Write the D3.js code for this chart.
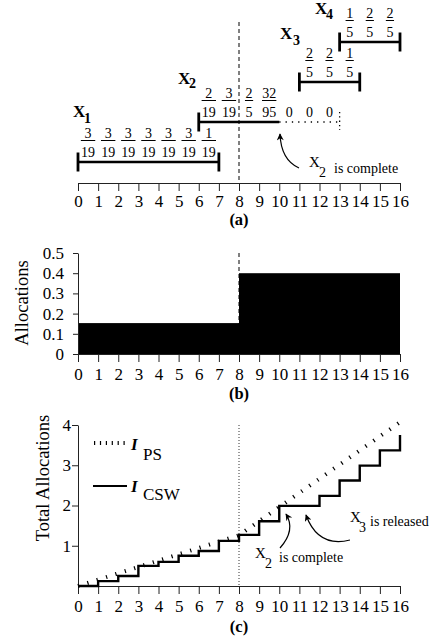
<!DOCTYPE html>
<html><head><meta charset="utf-8">
<script src="https://cdn.jsdelivr.net/npm/d3@7"></script>
<style>
body{margin:0;background:#fff}
svg{display:block}
</style>
</head><body>
<svg id="chart" width="445" height="640"></svg>
<script>
// ---------- data ----------
const timeTicks = [0,1,2,3,4,5,6,7,8,9,10,11,12,13,14,15,16];
const jobSubs = ["1","2","3","4"];
const jobStart = [0,6,11,13];
const jobEnd = [7,10,14,16];
const jobDotEnd = [null,13,null,null];
const x1Fracs = ["3/19","3/19","3/19","3/19","3/19","3/19","1/19"];
const x2Fracs = ["2/19","3/19","2/5","32/95","0","0","0"];
const x3Fracs = ["2/5","2/5","1/5"];
const x4Fracs = ["1/5","2/5","2/5"];
const jobFracs = [x1Fracs,x2Fracs,x3Fracs,x4Fracs];
const markTime = 8;

const allocStart = [0,8];
const allocEnd = [8,16];
const allocValue = [0.153,0.4];
const allocTicks = [0,0.1,0.2,0.3,0.4,0.5];
const allocTickLabels = ["0","0.1","0.2","0.3","0.4","0.5"];

const totalTicks = [1,2,3,4];
const totalTickLabels = ["1","2","3","4"];
const psTimes = [0,8,16];
const psValues = [0,1.26,4.07];
const cswTimes = [0,1,2,3,4,5,6,7,8,9,10,11,12,13,14,15,16];
const cswValues = [0,0.12,0.25,0.5,0.6,0.75,0.87,1.12,1.27,1.61,1.99,1.99,2.24,2.62,2.99,3.37,3.75];

// ---------- font pick ----------
function pickFont(){
  const cands = ["Liberation Serif","Times New Roman","Tinos","Nimbus Roman","Times","DejaVu Serif"];
  const ctx = document.createElement("canvas").getContext("2d");
  const s = "0123456789 Allocations WXm";
  ctx.font = "50px monospace"; const base = ctx.measureText(s).width;
  for(const c of cands){
    ctx.font = `50px "${c}", monospace`;
    if(Math.abs(ctx.measureText(s).width-base)>1) return `"${c}", serif`;
  }
  return "serif";
}
const FONT = pickFont();

// ---------- layout ----------
const svg = d3.select("#chart").attr("font-family",FONT);
const x = d3.scaleLinear().domain([0,16]).range([78,400]);
const yB = d3.scaleLinear().domain([0,0.5]).range([354,253]);
const yC = d3.scaleLinear().domain([0,4]).range([586,425]);

const defs = svg.append("defs");
defs.append("marker").attr("id","arr").attr("viewBox","0 0 10 10")
  .attr("refX",9).attr("refY",5).attr("markerWidth",9).attr("markerHeight",7)
  .attr("markerUnits","userSpaceOnUse").attr("orient","auto")
  .append("path").attr("d","M0,0 L10,5 L0,10 L3,5 z").attr("fill","#000");

function styleAxis(g, size){
  g.attr("font-family",FONT).attr("font-size",size);
  g.selectAll("path.domain").attr("stroke","#222");
  g.selectAll(".tick line").attr("stroke","#222");
  g.selectAll(".tick text").attr("fill","#000");
}
function txt(g, xx, yy, size, s){
  return g.append("text").attr("x",xx).attr("y",yy).attr("font-size",size)
    .attr("font-family",FONT).attr("fill","#000").text(s);
}

// ---------- panel (a) ----------
const gA = svg.append("g");
gA.append("line").attr("x1",x(markTime)).attr("x2",x(markTime)).attr("y1",22).attr("y2",183)
  .attr("stroke","#000").attr("stroke-width",1).attr("stroke-dasharray","4,3");

const axA = gA.append("g").attr("transform","translate(0,183)")
  .call(d3.axisBottom(x).tickValues(timeTicks).tickSize(8).tickSizeOuter(0).tickPadding(4));
styleAxis(axA,17);

const barY = [162,122,82,42];
const labelPos = [[73,117,84,123],[178,84,189,88],[280,39,293,45],[315,14,326,19]];
jobStart.forEach((s,j)=>{
  const by = barY[j];
  const g = gA.append("g");
  g.append("line").attr("x1",x(s)).attr("x2",x(jobEnd[j])).attr("y1",by).attr("y2",by)
    .attr("stroke","#000").attr("stroke-width",2.6);
  g.append("line").attr("x1",x(s)).attr("x2",x(s)).attr("y1",by-9.5).attr("y2",by+9.5)
    .attr("stroke","#000").attr("stroke-width",2.8);
  if(jobDotEnd[j]!==null){
    g.append("line").attr("x1",x(jobEnd[j])).attr("x2",x(jobDotEnd[j])).attr("y1",by).attr("y2",by)
      .attr("stroke","#000").attr("stroke-width",1.3).attr("stroke-dasharray","1.3,5");
    g.append("line").attr("x1",x(jobDotEnd[j])).attr("x2",x(jobDotEnd[j])).attr("y1",by-10).attr("y2",by+8)
      .attr("stroke","#000").attr("stroke-width",1.3).attr("stroke-dasharray","1.3,3");
  } else {
    g.append("line").attr("x1",x(jobEnd[j])).attr("x2",x(jobEnd[j])).attr("y1",by-9.5).attr("y2",by+9.5)
      .attr("stroke","#000").attr("stroke-width",2.8);
  }
  jobFracs[j].forEach((f,i)=>{
    const cx = x(s+i+0.5);
    const parts = f.split("/");
    if(parts.length===2){
      txt(g,cx,by-24,14,parts[0]).attr("text-anchor","middle");
      txt(g,cx,by-5,14,parts[1]).attr("text-anchor","middle");
      const w = Math.max(parts[0].length,parts[1].length)*6.2+2;
      g.append("line").attr("x1",cx-w/2).attr("x2",cx+w/2).attr("y1",by-21.5).attr("y2",by-21.5)
        .attr("stroke","#000").attr("stroke-width",1);
    } else {
      txt(g,cx,by-5,14,f).attr("text-anchor","middle");
    }
  });
  const lp = labelPos[j];
  txt(g,lp[0],lp[1],17,"X").attr("font-weight","bold");
  txt(g,lp[2],lp[3],14,jobSubs[j]).attr("font-weight","bold");
});

// annotation (a)
gA.append("path").attr("d","M299,168 Q281,160 280,134").attr("fill","none")
  .attr("stroke","#000").attr("stroke-width",1.2).attr("marker-end","url(#arr)");
txt(gA,309,167,15,"X");
txt(gA,319,177,14,"2");
txt(gA,334,173,14,"is complete");
txt(gA,x(8),224.5,16.5,"(a)").attr("text-anchor","middle").attr("font-weight","bold");

// ---------- panel (b) ----------
const gB = svg.append("g");
gB.append("line").attr("x1",x(markTime)).attr("x2",x(markTime)).attr("y1",yB(0.5)).attr("y2",yB(0))
  .attr("stroke","#000").attr("stroke-width",1).attr("stroke-dasharray","4,3");
gB.selectAll("rect.alloc").data(allocValue).join("rect").attr("class","alloc")
  .attr("x",(d,i)=>x(allocStart[i])).attr("width",(d,i)=>x(allocEnd[i])-x(allocStart[i]))
  .attr("y",d=>yB(d)).attr("height",d=>yB(0)-yB(d)).attr("fill","#000");
const axBx = gB.append("g").attr("transform",`translate(0,${yB(0)})`)
  .call(d3.axisBottom(x).tickValues(timeTicks).tickSize(8).tickSizeOuter(0).tickPadding(6));
styleAxis(axBx,17);
const axBy = gB.append("g").attr("transform",`translate(${x(0)},0)`)
  .call(d3.axisLeft(yB).tickValues(allocTicks).tickFormat((d,i)=>allocTickLabels[i]).tickSize(5).tickSizeOuter(0).tickPadding(9));
styleAxis(axBy,17);
txt(gB,0,0,18.5,"Allocations").attr("x",null).attr("y",null)
  .attr("transform","translate(28,303) rotate(-90)").attr("text-anchor","middle");
txt(gB,x(8),399,16.5,"(b)").attr("text-anchor","middle").attr("font-weight","bold");

// ---------- panel (c) ----------
const gC = svg.append("g");
gC.append("line").attr("x1",x(markTime)).attr("x2",x(markTime)).attr("y1",yC(4)).attr("y2",yC(0))
  .attr("stroke","#333").attr("stroke-width",1).attr("stroke-dasharray","1,2");
const axCx = gC.append("g").attr("transform",`translate(0,${yC(0)})`)
  .call(d3.axisBottom(x).tickValues(timeTicks).tickSize(8).tickSizeOuter(0).tickPadding(6));
styleAxis(axCx,17);
const axCy = gC.append("g").attr("transform",`translate(${x(0)},0)`)
  .call(d3.axisLeft(yC).tickValues(totalTicks).tickFormat((d,i)=>totalTickLabels[i]).tickSize(6).tickSizeOuter(0).tickPadding(1));
styleAxis(axCy,17);

const psLine = d3.line().x((d,i)=>x(psTimes[i])).y(d=>yC(d));
gC.append("path").attr("d",psLine(psValues)).attr("fill","none").attr("stroke","#000")
  .attr("stroke-width",4).attr("stroke-dasharray","1.2,8.6");
const cswLine = d3.line().x((d,i)=>x(cswTimes[i])).y(d=>yC(d)).curve(d3.curveStepAfter);
gC.append("path").attr("d",cswLine(cswValues)).attr("fill","none").attr("stroke","#000")
  .attr("stroke-width",2.4);

// legend
gC.append("line").attr("x1",94).attr("x2",125).attr("y1",443).attr("y2",443)
  .attr("stroke","#000").attr("stroke-width",4).attr("stroke-dasharray","1.2,4.7");
txt(gC,131,450,17,"I").attr("font-weight","bold").attr("font-style","italic");
txt(gC,143,460,17,"PS");
gC.append("line").attr("x1",93).attr("x2",127).attr("y1",486).attr("y2",486)
  .attr("stroke","#000").attr("stroke-width",2.2);
txt(gC,131,492,17,"I").attr("font-weight","bold").attr("font-style","italic");
txt(gC,143,500,17,"CSW");

// annotations (c)
gC.append("path").attr("d","M280,548 Q296,530 286,514").attr("fill","none")
  .attr("stroke","#000").attr("stroke-width",1.2).attr("marker-end","url(#arr)");
txt(gC,255,558,15,"X");
txt(gC,265,568,14,"2");
txt(gC,279,562,14,"is complete");
gC.append("path").attr("d","M350,540 Q318,548 306,515").attr("fill","none")
  .attr("stroke","#000").attr("stroke-width",1.2).attr("marker-end","url(#arr)");
txt(gC,350,522,15,"X");
txt(gC,359,532,14,"3");
txt(gC,370,526,14,"is released");

txt(gC,0,0,18.5,"Total Allocations").attr("x",null).attr("y",null)
  .attr("transform","translate(49,478) rotate(-90)").attr("text-anchor","middle");
txt(gC,x(8),632,16.5,"(c)").attr("text-anchor","middle").attr("font-weight","bold");
</script>
</body></html>
